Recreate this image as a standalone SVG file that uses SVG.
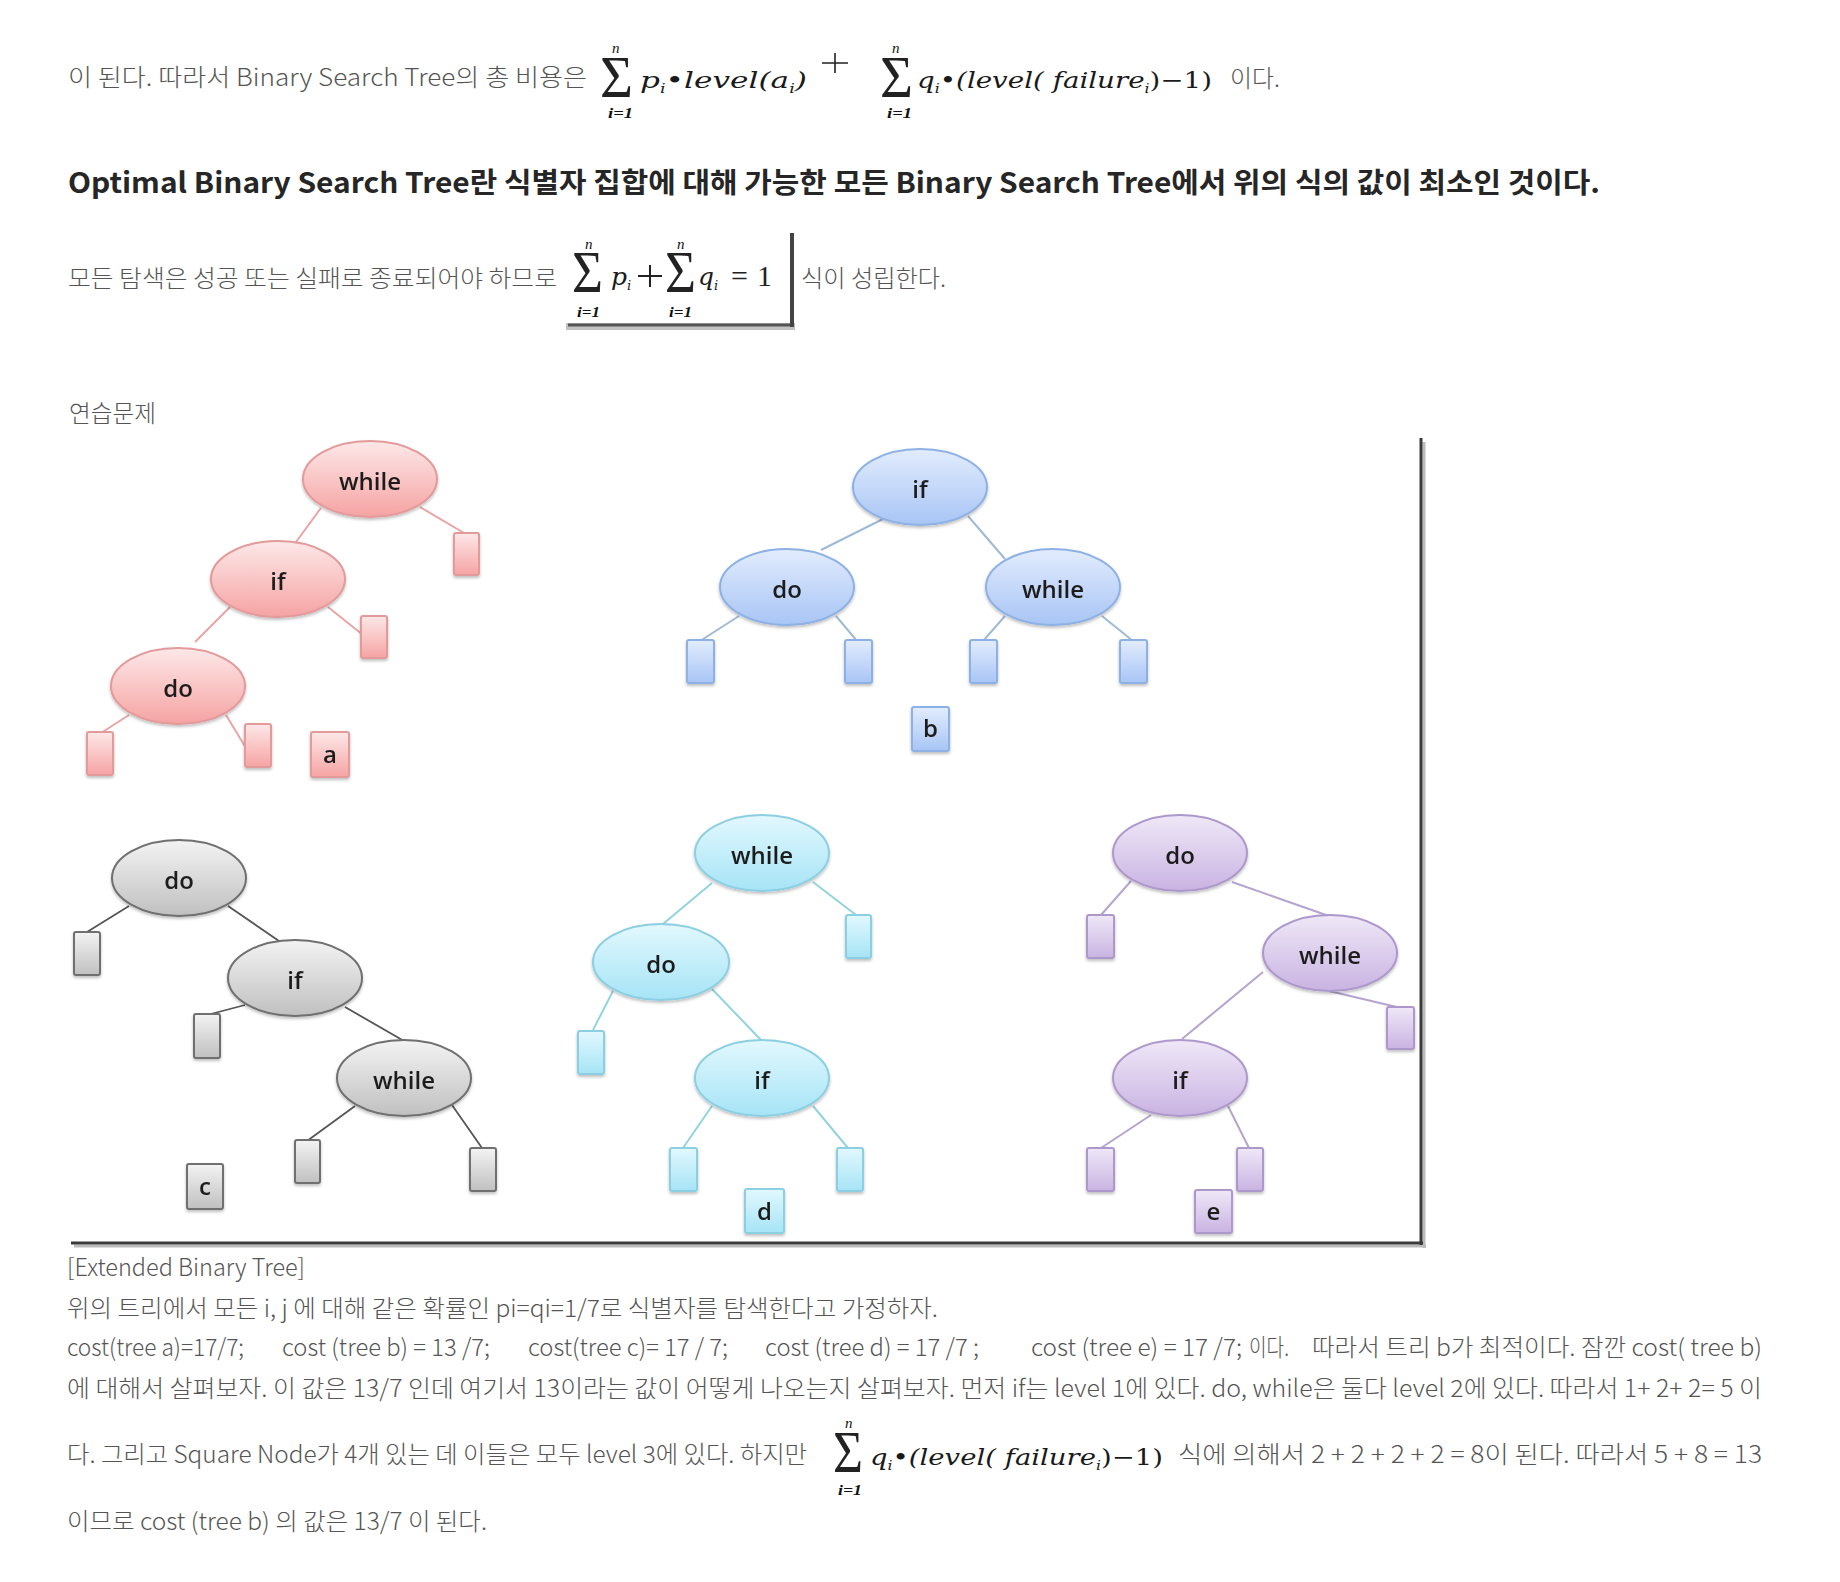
<svg xmlns="http://www.w3.org/2000/svg" width="1840" height="1582" viewBox="0 0 1840 1582">
<defs>
<style>
.body{font-family:"Noto Sans CJK KR","Noto Sans",sans-serif;font-weight:300;font-size:24px;fill:#555}
.head{font-family:"Noto Sans CJK KR","Noto Sans",sans-serif;font-weight:700;font-size:28px;fill:#262626}
.m{font-family:"DejaVu Serif","Liberation Serif",serif;font-style:italic;font-size:23px;fill:#1a1a1a}
.up{font-style:normal}
.sig{font-family:"Liberation Serif",serif;font-size:60px;fill:#222}
.lim{font-family:"Liberation Serif",serif;font-style:italic;font-size:15px;fill:#111;font-weight:700}
.nn{font-family:"Liberation Serif",serif;font-style:italic;font-size:15px;fill:#111}
.sub{font-size:13px}
.lbl{font-family:"Open Sans","Liberation Sans",sans-serif;font-size:24px;font-weight:600;fill:#1e1e1e;text-anchor:middle}
.la{stroke:#e9a4a4;stroke-width:2;fill:none}
.lb{stroke:#9fbad6;stroke-width:2;fill:none}
.lc{stroke:#555;stroke-width:1.8;fill:none}
.ld{stroke:#92d3df;stroke-width:2;fill:none}
.le{stroke:#b4a4cf;stroke-width:2;fill:none}
.na{fill:url(#gA);stroke:#e39a9a;stroke-width:2}
.nb{fill:url(#gB);stroke:#8db1e4;stroke-width:2}
.nc{fill:url(#gC);stroke:#6f6f6f;stroke-width:2}
.nd{fill:url(#gD);stroke:#8ccfe2;stroke-width:2}
.ne{fill:url(#gE);stroke:#ad98cc;stroke-width:2}
</style>
<linearGradient id="gA" x1="0" y1="0" x2="0" y2="1"><stop offset="0" stop-color="#fde8e8"/><stop offset="1" stop-color="#f6a3a3"/></linearGradient>
<linearGradient id="gB" x1="0" y1="0" x2="0" y2="1"><stop offset="0" stop-color="#e2ecfd"/><stop offset="1" stop-color="#a8c5f5"/></linearGradient>
<linearGradient id="gC" x1="0" y1="0" x2="0" y2="1"><stop offset="0" stop-color="#f3f3f3"/><stop offset="1" stop-color="#c0c0c0"/></linearGradient>
<linearGradient id="gD" x1="0" y1="0" x2="0" y2="1"><stop offset="0" stop-color="#e2f8fe"/><stop offset="1" stop-color="#a6e4f6"/></linearGradient>
<linearGradient id="gE" x1="0" y1="0" x2="0" y2="1"><stop offset="0" stop-color="#efe8f7"/><stop offset="1" stop-color="#c9b3e2"/></linearGradient>
<filter id="sh" x="-20%" y="-20%" width="140%" height="150%"><feDropShadow dx="0" dy="2" stdDeviation="1.5" flood-color="#000" flood-opacity="0.25"/></filter>
</defs>
<rect width="1840" height="1582" fill="#fff"/>

<!-- Line 1 -->
<text class="body" x="68" y="86" textLength="519" lengthAdjust="spacingAndGlyphs">이 된다. 따라서 Binary Search Tree의 총 비용은</text>
<g id="formula1">
<text class="sig" x="600" y="97" textLength="33" lengthAdjust="spacingAndGlyphs">Σ</text>
<text class="nn" x="612" y="53">n</text>
<text class="lim" x="608" y="118" textLength="25" lengthAdjust="spacingAndGlyphs">i=1</text>
<text class="m" x="640" y="88" textLength="167" lengthAdjust="spacingAndGlyphs">p<tspan class="sub" dy="5">i</tspan><tspan dy="-5">•level(a</tspan><tspan class="sub" dy="5">i</tspan><tspan dy="-5">)</tspan></text>
<path d="M822 63H848M835 53V73" stroke="#222" stroke-width="1.6"/>
<text class="sig" x="880" y="97" textLength="33" lengthAdjust="spacingAndGlyphs">Σ</text>
<text class="nn" x="892" y="53">n</text>
<text class="lim" x="887" y="118" textLength="25" lengthAdjust="spacingAndGlyphs">i=1</text>
<text class="m" x="917" y="88" textLength="295" lengthAdjust="spacingAndGlyphs">q<tspan class="sub" dy="5">i</tspan><tspan dy="-5">•(level(</tspan><tspan> failure</tspan><tspan class="sub" dy="5">i</tspan><tspan dy="-5" class="up">)−1)</tspan></text>
</g>
<text class="body" x="1230" y="87" textLength="50" lengthAdjust="spacingAndGlyphs">이다.</text>

<!-- Heading -->
<text class="head" x="68" y="193" textLength="1532" lengthAdjust="spacingAndGlyphs">Optimal Binary Search Tree란 식별자 집합에 대해 가능한 모든 Binary Search Tree에서 위의 식의 값이 최소인 것이다.</text>

<!-- Line 3 -->
<text class="body" x="68" y="287" textLength="489" lengthAdjust="spacingAndGlyphs">모든 탐색은 성공 또는 실패로 종료되어야 하므로</text>
<g id="formula2">
<rect x="566" y="323" width="229" height="7" fill="#9a9a9a" opacity="0.6"/>
<line x1="568" y1="325" x2="794" y2="325" stroke="#555" stroke-width="3"/>
<line x1="792" y1="233" x2="792" y2="327" stroke="#444" stroke-width="4"/>
<text class="sig" x="572" y="292" font-size="58" textLength="31" lengthAdjust="spacingAndGlyphs">Σ</text>
<text class="nn" x="585" y="249">n</text>
<text class="lim" x="577" y="317" textLength="23" lengthAdjust="spacingAndGlyphs">i=1</text>
<text class="m" x="611" y="285" style="font-size:25px">p<tspan class="sub" dy="5">i</tspan></text>
<path d="M638 276H662M650 265V287" stroke="#222" stroke-width="2"/>
<text class="sig" x="665" y="292" font-size="58" textLength="31" lengthAdjust="spacingAndGlyphs">Σ</text>
<text class="nn" x="677" y="249">n</text>
<text class="lim" x="669" y="317" textLength="23" lengthAdjust="spacingAndGlyphs">i=1</text>
<text class="m" x="698" y="285" style="font-size:25px">q<tspan class="sub" dy="5">i</tspan></text>
<text class="sig" x="731" y="286" style="font-size:30px">=</text>
<text class="sig" x="757" y="286" style="font-size:30px">1</text>
</g>
<text class="body" x="801" y="287" textLength="145" lengthAdjust="spacingAndGlyphs">식이 성립한다.</text>

<text class="body" x="69" y="422" textLength="87" lengthAdjust="spacingAndGlyphs">연습문제</text>

<!-- Frame -->
<g id="frame">
<line x1="1424" y1="442" x2="1424" y2="1248" stroke="#bbb" stroke-width="3"/>
<line x1="74" y1="1246" x2="1426" y2="1246" stroke="#bbb" stroke-width="3"/>
<line x1="1421" y1="438" x2="1421" y2="1245" stroke="#3a3a3a" stroke-width="3"/>
<line x1="71" y1="1243" x2="1423" y2="1243" stroke="#3a3a3a" stroke-width="3"/>
</g>

<!-- Connectors -->
<g id="connectors">
<path class="la" d="M321 508L296 542M420 507L464 533M230 607L195 642M328 607L363 635M129 715L101 733M226 715L246 748"/>
<path class="lb" d="M885 518L821 550M968 516L1005 559M739 616L700 641M836 616L857 641M1005 616L983 641M1102 616L1133 641"/>
<path class="lc" d="M129 906L87 932M228 906L279 941M245 1005L207 1015M345 1007L404 1041M355 1106L307 1141M452 1105L482 1148"/>
<path class="ld" d="M712 883L663 924M813 882L856 915M613 991L593 1030M712 989L761 1040M712 1106L683 1148M813 1106L848 1148"/>
<path class="le" d="M1131 881L1101 915M1232 882L1329 916M1263 972L1182 1039M1329 991L1401 1008M1151 1115L1101 1148M1228 1106L1249 1148"/>
</g>

<!-- Tree a -->
<g id="a-while" filter="url(#sh)"><ellipse class="na" cx="370" cy="479" rx="67" ry="38"/><text class="lbl" x="370" y="490">while</text></g>
<g id="a-if" filter="url(#sh)"><ellipse class="na" cx="278" cy="579" rx="67" ry="38"/><text class="lbl" x="278" y="590">if</text></g>
<g id="a-do" filter="url(#sh)"><ellipse class="na" cx="178" cy="686" rx="67" ry="38"/><text class="lbl" x="178" y="697">do</text></g>
<g id="a-leaf1" filter="url(#sh)"><rect class="na" x="454" y="533" width="25" height="42" rx="2"/></g>
<g id="a-leaf2" filter="url(#sh)"><rect class="na" x="361" y="616" width="26" height="42" rx="2"/></g>
<g id="a-leaf3" filter="url(#sh)"><rect class="na" x="87" y="732" width="26" height="43" rx="2"/></g>
<g id="a-leaf4" filter="url(#sh)"><rect class="na" x="245" y="724" width="26" height="43" rx="2"/></g>
<g id="a-label" filter="url(#sh)"><rect class="na" x="311" y="732" width="38" height="45" rx="2"/><text class="lbl" x="330" y="763">a</text></g>

<!-- Tree b -->
<g id="b-if" filter="url(#sh)"><ellipse class="nb" cx="920" cy="487" rx="67" ry="38"/><text class="lbl" x="920" y="498">if</text></g>
<g id="b-do" filter="url(#sh)"><ellipse class="nb" cx="787" cy="587" rx="67" ry="38"/><text class="lbl" x="787" y="598">do</text></g>
<g id="b-while" filter="url(#sh)"><ellipse class="nb" cx="1053" cy="587" rx="67" ry="38"/><text class="lbl" x="1053" y="598">while</text></g>
<g id="b-leaf1" filter="url(#sh)"><rect class="nb" x="687" y="640" width="27" height="43" rx="2"/></g>
<g id="b-leaf2" filter="url(#sh)"><rect class="nb" x="845" y="640" width="27" height="43" rx="2"/></g>
<g id="b-leaf3" filter="url(#sh)"><rect class="nb" x="970" y="640" width="27" height="43" rx="2"/></g>
<g id="b-leaf4" filter="url(#sh)"><rect class="nb" x="1120" y="640" width="27" height="43" rx="2"/></g>
<g id="b-label" filter="url(#sh)"><rect class="nb" x="912" y="707" width="37" height="44" rx="2"/><text class="lbl" x="930.5" y="737">b</text></g>

<!-- Tree c -->
<g id="c-do" filter="url(#sh)"><ellipse class="nc" cx="179" cy="878" rx="67" ry="38"/><text class="lbl" x="179" y="889">do</text></g>
<g id="c-if" filter="url(#sh)"><ellipse class="nc" cx="295" cy="978" rx="67" ry="38"/><text class="lbl" x="295" y="989">if</text></g>
<g id="c-while" filter="url(#sh)"><ellipse class="nc" cx="404" cy="1078" rx="67" ry="38"/><text class="lbl" x="404" y="1089">while</text></g>
<g id="c-leaf1" filter="url(#sh)"><rect class="nc" x="74" y="932" width="26" height="43" rx="2"/></g>
<g id="c-leaf2" filter="url(#sh)"><rect class="nc" x="194" y="1014" width="26" height="44" rx="2"/></g>
<g id="c-leaf3" filter="url(#sh)"><rect class="nc" x="295" y="1140" width="25" height="43" rx="2"/></g>
<g id="c-leaf4" filter="url(#sh)"><rect class="nc" x="470" y="1148" width="26" height="43" rx="2"/></g>
<g id="c-label" filter="url(#sh)"><rect class="nc" x="187" y="1164" width="36" height="45" rx="2"/><text class="lbl" x="205" y="1195">c</text></g>

<!-- Tree d -->
<g id="d-while" filter="url(#sh)"><ellipse class="nd" cx="762" cy="853" rx="67" ry="38"/><text class="lbl" x="762" y="864">while</text></g>
<g id="d-do" filter="url(#sh)"><ellipse class="nd" cx="661" cy="962" rx="68" ry="38"/><text class="lbl" x="661" y="973">do</text></g>
<g id="d-if" filter="url(#sh)"><ellipse class="nd" cx="762" cy="1078" rx="67" ry="38"/><text class="lbl" x="762" y="1089">if</text></g>
<g id="d-leaf1" filter="url(#sh)"><rect class="nd" x="846" y="915" width="25" height="43" rx="2"/></g>
<g id="d-leaf2" filter="url(#sh)"><rect class="nd" x="578" y="1031" width="26" height="43" rx="2"/></g>
<g id="d-leaf3" filter="url(#sh)"><rect class="nd" x="670" y="1148" width="27" height="43" rx="2"/></g>
<g id="d-leaf4" filter="url(#sh)"><rect class="nd" x="837" y="1148" width="26" height="43" rx="2"/></g>
<g id="d-label" filter="url(#sh)"><rect class="nd" x="745" y="1189" width="39" height="44" rx="2"/><text class="lbl" x="764.5" y="1220">d</text></g>

<!-- Tree e -->
<g id="e-do" filter="url(#sh)"><ellipse class="ne" cx="1180" cy="853" rx="67" ry="38"/><text class="lbl" x="1180" y="864">do</text></g>
<g id="e-while" filter="url(#sh)"><ellipse class="ne" cx="1330" cy="953" rx="67" ry="38"/><text class="lbl" x="1330" y="964">while</text></g>
<g id="e-if" filter="url(#sh)"><ellipse class="ne" cx="1180" cy="1078" rx="67" ry="38"/><text class="lbl" x="1180" y="1089">if</text></g>
<g id="e-leaf1" filter="url(#sh)"><rect class="ne" x="1087" y="915" width="27" height="43" rx="2"/></g>
<g id="e-leaf2" filter="url(#sh)"><rect class="ne" x="1387" y="1007" width="27" height="42" rx="2"/></g>
<g id="e-leaf3" filter="url(#sh)"><rect class="ne" x="1087" y="1148" width="27" height="43" rx="2"/></g>
<g id="e-leaf4" filter="url(#sh)"><rect class="ne" x="1237" y="1148" width="26" height="43" rx="2"/></g>
<g id="e-label" filter="url(#sh)"><rect class="ne" x="1195" y="1190" width="37" height="43" rx="2"/><text class="lbl" x="1213.5" y="1220">e</text></g>

<!-- Bottom text -->
<text class="body" x="67" y="1276" textLength="238" lengthAdjust="spacingAndGlyphs">[Extended Binary Tree]</text>
<text class="body" x="67" y="1317" textLength="871" lengthAdjust="spacingAndGlyphs">위의 트리에서 모든 i, j 에 대해 같은 확률인 pi=qi=1/7로 식별자를 탐색한다고 가정하자.</text>
<text class="body" x="67" y="1356" textLength="177" lengthAdjust="spacingAndGlyphs">cost(tree a)=17/7;</text>
<text class="body" x="282" y="1356" textLength="208" lengthAdjust="spacingAndGlyphs">cost (tree b) = 13 /7;</text>
<text class="body" x="528" y="1356" textLength="200" lengthAdjust="spacingAndGlyphs">cost(tree c)= 17 / 7;</text>
<text class="body" x="765" y="1356" textLength="214" lengthAdjust="spacingAndGlyphs">cost (tree d) = 17 /7 ;</text>
<text class="body" x="1031" y="1356" textLength="211" lengthAdjust="spacingAndGlyphs">cost (tree e) = 17 /7;</text>
<text class="body" x="1249" y="1356" textLength="40" lengthAdjust="spacingAndGlyphs">이다.</text>
<text class="body" x="1312" y="1356" textLength="450" lengthAdjust="spacingAndGlyphs">따라서 트리 b가 최적이다. 잠깐 cost( tree b)</text>
<text class="body" x="67" y="1397" textLength="1695" lengthAdjust="spacingAndGlyphs">에 대해서 살펴보자. 이 값은 13/7 인데 여기서 13이라는 값이 어떻게 나오는지 살펴보자. 먼저 if는 level 1에 있다. do, while은 둘다 level 2에 있다. 따라서 1+ 2+ 2= 5 이</text>
<text class="body" x="67" y="1463" textLength="740" lengthAdjust="spacingAndGlyphs">다. 그리고 Square Node가 4개 있는 데 이들은 모두 level 3에 있다. 하지만</text>
<g id="formula3">
<text class="sig" x="833" y="1472" textLength="30" lengthAdjust="spacingAndGlyphs">Σ</text>
<text class="nn" x="845" y="1428">n</text>
<text class="lim" x="838" y="1495" textLength="24" lengthAdjust="spacingAndGlyphs">i=1</text>
<text class="m" x="870" y="1465" textLength="293" lengthAdjust="spacingAndGlyphs">q<tspan class="sub" dy="5">i</tspan><tspan dy="-5">•(level(</tspan><tspan> failure</tspan><tspan class="sub" dy="5">i</tspan><tspan dy="-5" class="up">)−1)</tspan></text>
</g>
<text class="body" x="1178" y="1463" textLength="584" lengthAdjust="spacingAndGlyphs">식에 의해서 2 + 2 + 2 + 2 = 8이 된다. 따라서 5 + 8 = 13</text>
<text class="body" x="67" y="1530" textLength="420" lengthAdjust="spacingAndGlyphs">이므로 cost (tree b) 의 값은 13/7 이 된다.</text>
</svg>
